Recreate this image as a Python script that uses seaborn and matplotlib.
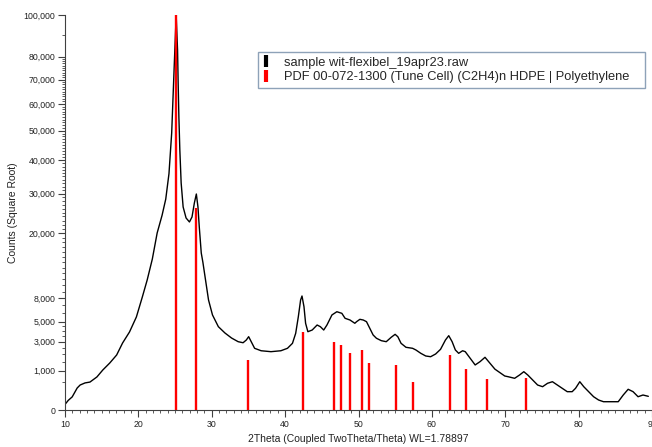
import numpy as np
import pandas as pd
import matplotlib
matplotlib.use("Agg")
import matplotlib.pyplot as plt
from matplotlib.lines import Line2D
from matplotlib.ticker import FixedLocator, FuncFormatter, MultipleLocator
import seaborn as sns

# ---------------- data ----------------
two_theta = [10.0, 10.45, 10.98, 11.66, 12.06, 12.73, 13.4, 14.35, 15.15, 16.1,
             17.04, 17.85, 18.79, 19.73, 20.54, 21.2, 21.9, 22.56, 23.23, 23.73,
             24.17, 24.54, 24.71, 24.89, 25.07, 25.15, 25.34, 25.42, 25.52, 25.65,
             25.83, 26.1, 26.5, 26.96, 27.31, 27.63, 27.9, 28.12, 28.3, 28.57,
             28.79, 29.15, 29.56, 30.1, 30.9, 31.8, 32.7, 33.6, 34.27, 34.71,
             35.03, 35.38, 35.84, 36.73, 38.07, 39.42, 40.32, 41.0, 41.44, 41.8,
             42.11, 42.3, 42.57, 42.79, 43.1, 43.69, 44.36, 44.8, 45.26, 45.7,
             46.38, 47.05, 47.73, 48.17, 48.84, 49.5, 49.74, 50.19, 50.65, 51.09,
             51.53, 51.99, 52.44, 53.11, 53.78, 54.46, 54.99, 55.36, 55.8, 56.47,
             57.37, 57.82, 58.49, 59.16, 59.83, 60.51, 61.18, 61.85, 62.3, 62.76,
             63.2, 63.65, 64.19, 64.55, 65.22, 65.9, 66.57, 67.24, 67.92, 68.59,
             69.26, 69.93, 70.38, 71.28, 71.95, 72.53, 73.07, 73.74, 74.41, 75.09,
             75.76, 76.43, 77.1, 77.78, 78.45, 79.12, 79.58, 80.16, 80.7, 81.37,
             82.04, 82.72, 83.39, 84.06, 84.73, 85.4, 86.08, 86.75, 87.42, 88.1,
             88.77, 89.5]
counts = [20, 60, 110, 310, 400, 470, 500, 700, 1025, 1415,
          1940, 2880, 3900, 5550, 8190, 10830, 14600, 20080, 24300, 28500,
          35800, 49190, 61600, 75420, 91100, 100000, 83070, 68540, 55030, 43340,
          33030, 26420, 23630, 22660, 23880, 27470, 29900, 26420, 21470, 15800,
          14000, 10830, 7760, 5790, 4450, 3800, 3320, 2990, 2900, 3140,
          3445, 2990, 2440, 2250, 2180, 2250, 2440, 2850, 3770, 5580,
          7760, 8330, 6840, 4820, 3930, 4100, 4630, 4450, 4100, 4630,
          5790, 6190, 5990, 5390, 5190, 4820, 5000, 5270, 5190, 5000,
          4280, 3610, 3300, 3080, 2990, 3390, 3670, 3440, 2850, 2520,
          2440, 2310, 2060, 1870, 1820, 2010, 2360, 3140, 3540, 2990,
          2310, 2060, 2250, 2180, 1710, 1300, 1500, 1780, 1400, 1070,
          900, 741, 711, 644, 785, 940, 785, 577, 400, 348,
          457, 513, 400, 302, 215, 215, 302, 513, 348, 215,
          113, 64, 44, 44, 44, 44, 144, 275, 215, 113,
          144, 120]

ref_pos = [25.13, 27.82, 35.0, 42.48, 46.65, 47.55, 48.87, 50.44, 51.47,
           55.13, 57.37, 62.53, 64.66, 67.55, 72.85]
ref_int = [100000, 26080, 1600, 3930, 2990, 2710, 2060, 2310, 1400,
           1300, 513, 1940, 1060, 616, 669]

y_major = [0, 1000, 3000, 5000, 8000, 20000, 30000, 40000, 50000, 60000,
           70000, 80000, 100000]
x_major = [10, 20, 30, 40, 50, 60, 70, 80, 90]

sample_label = "sample wit-flexibel_19apr23.raw"
ref_label = "PDF 00-072-1300 (Tune Cell) (C2H4)n HDPE | Polyethylene"
x_title = "2Theta (Coupled TwoTheta/Theta) WL=1.78897"
y_title = "Counts (Square Root)"

# ---------------- plot ----------------
sns.set_theme(style="ticks")
plt.rcParams["font.family"] = ["Liberation Sans", "DejaVu Sans"]

fig = plt.figure(figsize=(6.52, 4.47), dpi=100)
ax = fig.add_axes([65 / 652, 1 - 410 / 447, 1 - 65 / 652, (410 - 15) / 447])

ax.set_yscale("function",
              functions=(lambda v: np.sqrt(np.clip(v, 0, None)),
                         lambda v: np.square(v)))

df = pd.DataFrame({"2theta": two_theta, "counts": counts})
sns.lineplot(data=df, x="2theta", y="counts", ax=ax, color="black",
             linewidth=1.0, sort=True, estimator=None)

ax.vlines(ref_pos, 0, ref_int, colors="#ff0000", linewidth=1.7, zorder=3)

ax.set_xlim(10, 90)
ax.set_ylim(0, 100000)

ax.yaxis.set_major_locator(FixedLocator(y_major))
minor_y = ([500, 1500, 2000, 2500, 3500, 4000, 4500, 6000, 7000]
           + list(range(9000, 20000, 1000))
           + [v for v in range(21000, 80000, 1000) if v % 10000 != 0]
           + [90000])
ax.yaxis.set_minor_locator(FixedLocator(minor_y))
ax.yaxis.set_major_formatter(FuncFormatter(lambda v, p: f"{v:,.0f}"))

ax.xaxis.set_major_locator(FixedLocator(x_major))
ax.xaxis.set_minor_locator(MultipleLocator(1))

spine_col = "#404040"
for side in ["top", "right"]:
    ax.spines[side].set_visible(False)
for side in ["left", "bottom"]:
    ax.spines[side].set_color(spine_col)
    ax.spines[side].set_linewidth(0.8)

ax.tick_params(axis="both", which="major", length=5, width=0.8,
               color=spine_col, labelsize=6.3, labelcolor="#222222", pad=2)
ax.tick_params(axis="both", which="minor", length=2.5, width=0.6,
               color=spine_col)

ax.set_xlabel(x_title, fontsize=7.5, color="#222222", labelpad=4)
ax.set_ylabel(y_title, fontsize=7.5, color="#222222", labelpad=4)

handles = [Line2D([], [], color="black", marker="|", linestyle="None",
                  markersize=9, markeredgewidth=3),
           Line2D([], [], color="#ff0000", marker="|", linestyle="None",
                  markersize=9, markeredgewidth=3)]
leg = ax.legend(handles, [sample_label, ref_label], loc="upper left",
                bbox_to_anchor=((258 - 65) / 587, (410 - 52) / 395,
                                (645 - 258) / 587, 0.0),
                mode="expand",
                borderaxespad=0, frameon=True, fancybox=False,
                framealpha=1, edgecolor="#8ea2b8", fontsize=9.3,
                handlelength=0.6, handletextpad=1.1, borderpad=0.35,
                labelspacing=0.2)
leg.get_frame().set_linewidth(1.0)

fig.savefig("out.png", dpi=100)
